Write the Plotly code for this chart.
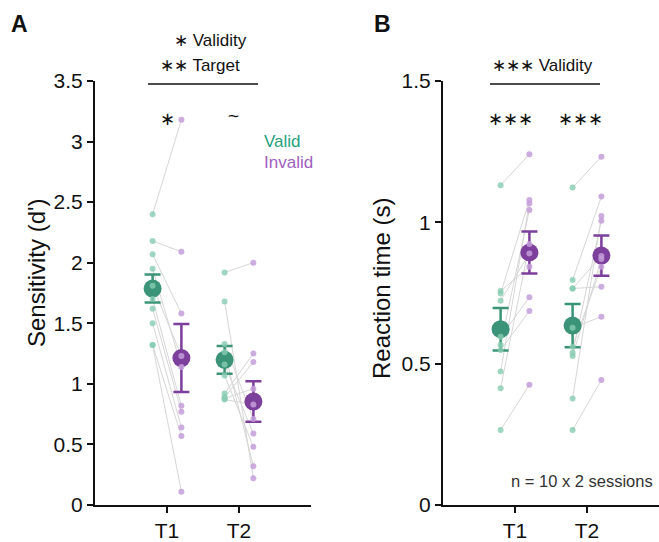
import numpy as np
import plotly.graph_objects as go

# ---------------- data ----------------
conditions = ["T1", "T2"]
cond_pos = [1, 2]

# Panel A: sensitivity (d'), one value per participant, paired valid/invalid
sens_valid_T1 = [2.40, 2.18, 2.07, 1.95, 1.81, 1.70, 1.62, 1.50, 1.32, 1.32]
sens_invalid_T1 = [3.18, 2.09, 1.58, 1.14, 1.23, 0.82, 0.77, 0.64, 0.57, 0.11]
sens_valid_T2 = [1.92, 1.68, 1.33, 1.26, 1.16, 1.07, 0.92, 0.89, 0.88, 0.87]
sens_invalid_T2 = [2.00, 0.22, 0.71, 0.32, 0.59, 0.48, 1.25, 1.18, 0.96, 0.83]

# Panel B: reaction time (s)
rt_valid_T1 = [1.131, 0.757, 0.748, 0.723, 0.595, 0.567, 0.548, 0.472, 0.413, 0.265]
rt_invalid_T1 = [1.241, 0.843, 1.079, 0.890, 0.735, 1.044, 0.686, 1.067, 0.923, 0.425]
rt_valid_T2 = [1.123, 0.796, 0.766, 0.766, 0.627, 0.560, 0.539, 0.527, 0.377, 0.265]
rt_invalid_T2 = [1.232, 1.091, 0.881, 0.772, 0.666, 0.843, 1.006, 0.870, 1.022, 0.442]

sens_ticks = [0, 0.5, 1, 1.5, 2, 2.5, 3, 3.5]
rt_ticks = [0, 0.5, 1, 1.5]

# ---------------- style ----------------
FONT = "Liberation Sans, Arial, Helvetica, sans-serif"
GREEN = "#3b9477"
PURPLE = "#7c3f9c"
GREEN_LIGHT = "rgba(135,204,178,0.8)"
PURPLE_LIGHT = "rgba(196,158,218,0.85)"
GREEN_TXT = "#25a07f"
PURPLE_TXT = "#a060c0"
OFF = 0.2

W, H = 659, 542
L, R, T, B = 95, 0, 81, 37
PW = W - L - R
PH = H - T - B


def px(xp, yp):
    return (xp - L) / PW, (H - B - yp) / PH


fig = go.Figure()


def add_panel(vals, xa, ya):
    lx, ly = [], []
    for c, (v, i) in zip(cond_pos, vals):
        for a, b in zip(v, i):
            lx += [c - OFF, c + OFF, None]
            ly += [a, b, None]
    fig.add_trace(go.Scatter(x=lx, y=ly, mode="lines", xaxis=xa, yaxis=ya,
                             line=dict(color="#d6d6d6", width=1), hoverinfo="skip",
                             showlegend=False))
    for k, (col, light) in enumerate([(GREEN, GREEN_LIGHT), (PURPLE, PURPLE_LIGHT)]):
        sgn = -1 if k == 0 else 1
        mx, my, me = [], [], []
        px_, py_ = [], []
        for c, pair in zip(cond_pos, vals):
            arr = np.array(pair[k], dtype=float)
            mx.append(c + sgn * OFF)
            my.append(arr.mean())
            me.append(arr.std(ddof=1) / np.sqrt(len(arr)))
            px_ += [c + sgn * OFF] * len(arr)
            py_ += list(arr)
        fig.add_trace(go.Scatter(x=mx, y=my, mode="markers", xaxis=xa, yaxis=ya,
                                 marker=dict(color=col, size=18),
                                 error_y=dict(type="data", array=me, color=col,
                                              thickness=2.5, width=8),
                                 showlegend=False, cliponaxis=False))
        fig.add_trace(go.Scatter(x=px_, y=py_, mode="markers", xaxis=xa, yaxis=ya,
                                 marker=dict(color=light, size=6),
                                 showlegend=False, cliponaxis=False))


add_panel([(sens_valid_T1, sens_invalid_T1), (sens_valid_T2, sens_invalid_T2)], "x", "y")
add_panel([(rt_valid_T1, rt_invalid_T1), (rt_valid_T2, rt_invalid_T2)], "x2", "y2")

dA = [0, (311 - L) / PW]
dB = [(443 - L) / PW, 1.0]

axis_common = dict(showline=True, linecolor="#111", linewidth=2, ticks="outside",
                   ticklen=6, tickwidth=1.5, tickcolor="#111", showgrid=False,
                   zeroline=False, tickfont=dict(family=FONT, size=21, color="#111"))

fig.update_layout(
    width=W, height=H,
    margin=dict(l=L, r=R, t=T, b=B),
    paper_bgcolor="white", plot_bgcolor="white",
    font=dict(family=FONT, color="#111"),
    xaxis=dict(domain=dA, range=[0, 3], tickvals=cond_pos, ticktext=conditions,
               anchor="y", **axis_common),
    yaxis=dict(domain=[0, 1], range=[0, 3.5], tickvals=sens_ticks,
               ticktext=[f"{t:g}" for t in sens_ticks], anchor="x", **axis_common),
    xaxis2=dict(domain=dB, range=[0, 3], tickvals=cond_pos, ticktext=conditions,
                anchor="y2", **axis_common),
    yaxis2=dict(domain=[0, 1], range=[0, 1.5], tickvals=rt_ticks,
                ticktext=[f"{t:g}" for t in rt_ticks], anchor="x2", **axis_common),
)

ann = []


def text(xp, yp, s, size=17, color="#111", xanchor="left", bold=False, angle=0):
    x, y = px(xp, yp)
    ann.append(dict(x=x, y=y, xref="paper", yref="paper", text=(f"<b>{s}</b>" if bold else s),
                    showarrow=False, xanchor=xanchor, yanchor="middle", textangle=angle,
                    font=dict(family=FONT, size=size, color=color)))


text(9, 24, "A", size=23, bold=True)
text(372, 24, "B", size=23, bold=True)
text(172, 40, "∗ Validity")
text(158, 65, "∗∗ Target")
text(490, 65, "∗∗∗ Validity")
text(167, 119, "∗", size=18, xanchor="center")
text(233, 116, "~", size=19, xanchor="center")
text(510, 119, "∗∗∗", size=18, xanchor="center")
text(580, 119, "∗∗∗", size=18, xanchor="center")
text(262, 141, "Valid", color=GREEN_TXT)
text(262, 162, "Invalid", color=PURPLE_TXT)
text(655, 481, "n = 10 x 2 sessions", size=16.5, color="#333", xanchor="right")
text(36, 273, "Sensitivity (d')", size=24, xanchor="center", angle=-90)
text(381, 289, "Reaction time (s)", size=24, xanchor="center", angle=-90)
fig.update_layout(annotations=ann)

shapes = []
for x0, x1 in [(148, 258), (490, 600)]:
    a0, b0 = px(x0, 84)
    a1, _ = px(x1, 84)
    shapes.append(dict(type="line", xref="paper", yref="paper", x0=a0, x1=a1, y0=b0, y1=b0,
                       line=dict(color="#111", width=1.5)))
fig.update_layout(shapes=shapes)

fig.write_html("out.html", config={"displayModeBar": False},
               post_script="document.body.style.margin='0';")
